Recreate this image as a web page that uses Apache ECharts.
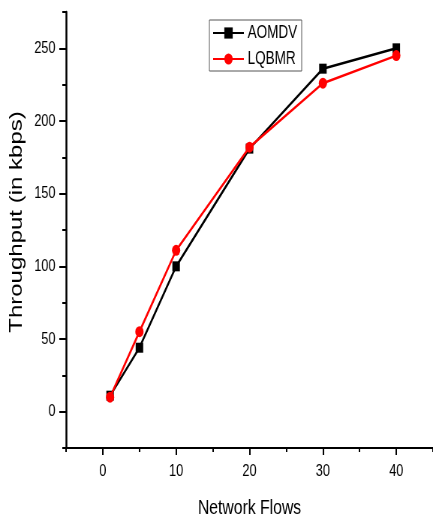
<!DOCTYPE html>
<html>
<head>
<meta charset="utf-8">
<script src="https://cdn.jsdelivr.net/npm/echarts@6/dist/echarts.min.js"></script>
<style>
  html, body { margin: 0; padding: 0; background: #fff; overflow: hidden; }
  /* the figure is laid out wider and then compressed horizontally */
  #chart { width: 577px; height: 515px; transform: scaleX(0.7504); transform-origin: 0 0; }
</style>
</head>
<body>
<div id="chart"></div>
<script>
// Throughput versus number of network flows
const flows = [1, 5, 10, 20, 30, 40];
const aomdv = [11, 44, 100, 181, 236, 250];
const lqbmr = [10, 55, 111, 182, 226, 245];

const xMajor = [0, 10, 20, 30, 40];
const xMinor = [-5, 5, 15, 25, 35, 45];
const yMajor = [0, 50, 100, 150, 200, 250];
const yMinor = [-25, 25, 75, 125, 175, 225, 275];

const FONT = "'Liberation Sans', Arial, sans-serif";
const chart = echarts.init(document.getElementById('chart'), null, { renderer: 'canvas' });

function pairs(xs, ys) { return xs.map((x, i) => [x, ys[i]]); }

const xBase = { type: 'value', min: -5, max: 45, interval: 5, splitLine: { show: false } };
const yBase = { type: 'value', min: -25, max: 275, interval: 25, splitLine: { show: false } };

chart.setOption({
  animation: false,
  backgroundColor: '#fff',
  grid: { left: 88, right: 0, top: 12, bottom: 67, outerBoundsMode: 'none' },
  xAxis: [
    Object.assign({}, xBase, {
      name: 'Network Flows',
      nameLocation: 'middle',
      nameGap: 50,
      nameTextStyle: { fontFamily: FONT, fontSize: 21, color: '#000' },
      axisLine: { onZero: false, lineStyle: { color: '#000', width: 2 } },
      axisTick: { length: 7, lineStyle: { color: '#000', width: 2 }, customValues: xMajor },
      axisLabel: { fontFamily: FONT, fontSize: 17, color: '#000', margin: 15, customValues: xMajor }
    }),
    Object.assign({}, xBase, {
      position: 'bottom',
      axisLine: { show: false, onZero: false },
      axisTick: { length: 4, lineStyle: { color: '#000', width: 2 }, customValues: xMinor },
      axisLabel: { show: false }
    })
  ],
  yAxis: [
    Object.assign({}, yBase, {
      name: 'Throughput (in kbps)',
      nameLocation: 'middle',
      nameGap: 54,
      nameRotate: 90,
      nameTextStyle: { fontFamily: FONT, fontSize: 24, color: '#000', padding: [0, 0, 0, 16] },
      axisLine: { onZero: false, lineStyle: { color: '#000', width: 2.5 } },
      axisTick: { length: 9, lineStyle: { color: '#000', width: 2 }, customValues: yMajor },
      axisLabel: { fontFamily: FONT, fontSize: 17, color: '#000', margin: 14, customValues: yMajor }
    }),
    Object.assign({}, yBase, {
      position: 'left',
      axisLine: { show: false, onZero: false },
      axisTick: { length: 5, lineStyle: { color: '#000', width: 2 }, customValues: yMinor },
      axisLabel: { show: false }
    })
  ],
  legend: {
    orient: 'vertical',
    left: 279,
    top: 20,
    padding: [4, 6, 3, 4],
    itemGap: 8,
    itemWidth: 41,
    itemHeight: 14,
    borderColor: '#555',
    borderWidth: 1,
    borderRadius: 0,
    textStyle: { fontFamily: FONT, fontSize: 18, color: '#000' },
    data: ['AOMDV', 'LQBMR']
  },
  series: [
    {
      name: 'AOMDV',
      type: 'line',
      data: pairs(flows, aomdv),
      symbol: 'rect',
      symbolSize: 10,
      itemStyle: { color: '#000' },
      lineStyle: { color: '#000', width: 2.5 },
      z: 2
    },
    {
      name: 'LQBMR',
      type: 'line',
      data: pairs(flows, lqbmr),
      symbol: 'circle',
      symbolSize: 11,
      itemStyle: { color: '#f00' },
      lineStyle: { color: '#f00', width: 2.5 },
      z: 3
    }
  ]
});
</script>
</body>
</html>
